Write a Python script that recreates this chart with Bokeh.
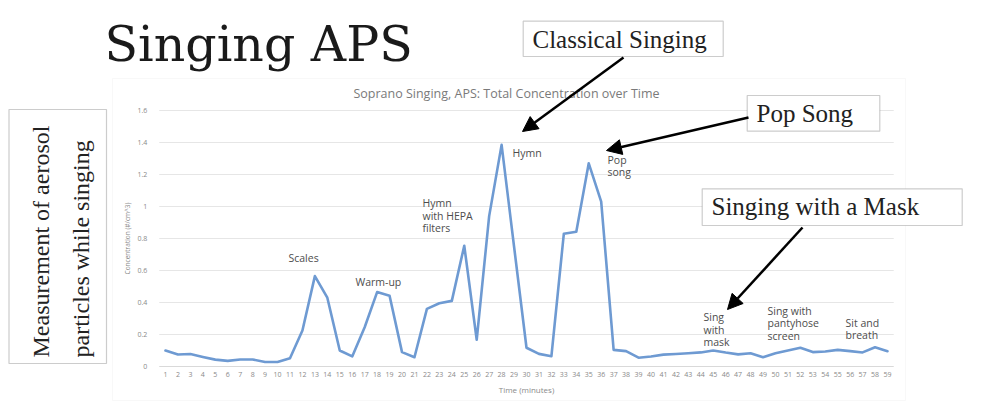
import math
from bokeh.plotting import figure
from bokeh.models import (Range1d, Label, BoxAnnotation, Arrow, NormalHead,
                          FixedTicker, CustomJSTickFormatter)
from bokeh.embed import file_html
from bokeh.resources import INLINE

# ---------------- data ----------------
minutes = [1, 2, 3, 4, 5, 6, 7, 8, 9, 10, 11, 12, 13, 14, 15, 16, 17, 18, 19, 20,
           21, 22, 23, 24, 25, 26, 27, 28, 29, 30, 31, 32, 33, 34, 35, 36, 37, 38, 39, 40,
           41, 42, 43, 44, 45, 46, 47, 48, 49, 50, 51, 52, 53, 54, 55, 56, 57, 58, 59]
concentration = [0.100, 0.075, 0.078, 0.060, 0.043, 0.035, 0.044, 0.044, 0.028, 0.028,
                 0.052, 0.225, 0.565, 0.430, 0.100, 0.063, 0.245, 0.465, 0.442, 0.090,
                 0.058, 0.360, 0.395, 0.410, 0.755, 0.167, 0.940, 1.385, 0.750, 0.117,
                 0.079, 0.064, 0.830, 0.842, 1.270, 1.030, 0.104, 0.096, 0.055, 0.063,
                 0.074, 0.078, 0.083, 0.088, 0.100, 0.087, 0.076, 0.083, 0.058, 0.083,
                 0.100, 0.117, 0.090, 0.094, 0.104, 0.096, 0.088, 0.120, 0.096]
y_ticks = [0, 0.2, 0.4, 0.6, 0.8, 1, 1.2, 1.4, 1.6]
x_bounds = (0.5, 59.5)
y_bounds = (0.0, 1.6)

slide_title = "Singing APS"
chart_title = "Soprano Singing, APS: Total Concentration over Time"
x_title = "Time (minutes)"
y_title = "Concentration (#/cm^3)"
side_note = ["Measurement of aerosol", "particles while singing"]
callouts = ["Classical Singing", "Pop Song", "Singing with a Mask"]

# ---------------- layout helpers (picture pixels -> data) ----------------
W, H = 985, 407
PX_FIRST, PX_LAST = 165.0, 887.0     # pixel x of minute 1 and minute 59
PY_ZERO, PY_TOP = 366.0, 110.0       # pixel y of 0 and 1.6
SX = (PX_LAST - PX_FIRST) / (minutes[-1] - minutes[0])
SY = (PY_ZERO - PY_TOP) / (y_bounds[1] - y_bounds[0])


def X(px):
    return minutes[0] + (px - PX_FIRST) / SX


def Y(py):
    return (PY_ZERO - py) / SY


p = figure(width=W, height=H, output_backend="svg", toolbar_location=None,
           x_range=Range1d(X(0), X(W)), y_range=Range1d(Y(H), Y(0)),
           min_border_left=0, min_border_right=0,
           min_border_top=0, min_border_bottom=0)
p.outline_line_color = None
p.background_fill_color = "white"
p.border_fill_color = "white"

# chart area frame (faint)
p.add_layout(BoxAnnotation(left=X(112), right=X(905), top=Y(78), bottom=Y(400),
                           fill_color=None, line_color="#e8e8e8", line_width=1,
                           level="underlay"))

# gridlines (horizontal, bounded to plot area)
p.segment(x0=[x_bounds[0]] * len(y_ticks), x1=[x_bounds[1]] * len(y_ticks),
          y0=y_ticks, y1=y_ticks, line_color="#e6e6e6", line_width=1)
p.xgrid.visible = False
p.ygrid.visible = False

# axes placed at fixed data locations
p.xaxis.fixed_location = 0
p.xaxis.bounds = x_bounds
p.xaxis.ticker = FixedTicker(ticks=minutes)
p.xaxis.axis_label = x_title
p.xaxis.axis_line_color = "#d9d9d9"
p.xaxis.major_tick_line_color = None
p.xaxis.minor_tick_line_color = None
p.xaxis.major_tick_out = 0
p.xaxis.major_tick_in = 0
p.xaxis.major_label_text_font = "Open Sans"
p.xaxis.major_label_text_font_size = "7px"
p.xaxis.major_label_text_color = "#8a8a8a"
p.xaxis.major_label_standoff = 5
p.xaxis.axis_label_text_font = "Open Sans"
p.xaxis.axis_label_text_font_style = "normal"
p.xaxis.axis_label_text_font_size = "8px"
p.xaxis.axis_label_text_color = "#8a8a8a"
p.xaxis.axis_label_standoff = 4

p.yaxis.fixed_location = x_bounds[0]
p.yaxis.bounds = y_bounds
p.yaxis.ticker = FixedTicker(ticks=y_ticks)
p.yaxis.formatter = CustomJSTickFormatter(code="return String(tick);")
p.yaxis.axis_label = y_title
p.yaxis.axis_line_color = None
p.yaxis.major_tick_line_color = None
p.yaxis.minor_tick_line_color = None
p.yaxis.major_tick_out = 0
p.yaxis.major_tick_in = 0
p.yaxis.major_label_text_font = "Open Sans"
p.yaxis.major_label_text_font_size = "7px"
p.yaxis.major_label_text_color = "#8a8a8a"
p.yaxis.major_label_standoff = 12
p.yaxis.axis_label_text_font = "Open Sans"
p.yaxis.axis_label_text_font_style = "normal"
p.yaxis.axis_label_text_font_size = "6.5px"
p.yaxis.axis_label_text_color = "#8a8a8a"
p.yaxis.axis_label_standoff = 3

# data line
p.line(minutes, concentration, line_color="#6e9ad2", line_width=2.6,
       line_join="round", line_cap="round")


def label(text, px, py, size, font, color, align="left", baseline="middle", angle=0.0):
    p.add_layout(Label(x=X(px), y=Y(py), text=text, text_font=font,
                       text_font_size=size, text_color=color, text_align=align,
                       text_baseline=baseline, angle=angle))


# chart title
label(chart_title, 506, 93, "12.5px", "Open Sans", "#7a7a7a", align="center")

# in-chart notes
note_font = "Open Sans"
note_size = "10.5px"
note_color = "#4d4d4d"
notes = [
    ("Scales", 288, 257),
    ("Warm-up", 355, 281.5),
    ("Hymn", 422, 202.7), ("with HEPA", 422, 215), ("filters", 422, 227.3),
    ("Hymn", 512, 152.7),
    ("Pop", 607, 159), ("song", 607, 171.5),
    ("Sing", 703, 316.7), ("with", 703, 329), ("mask", 703, 341.3),
    ("Sing with", 767, 310.7), ("pantyhose", 767, 322.9), ("screen", 767, 335.1),
    ("Sit and", 845, 322.3), ("breath", 845, 334.5),
]
for t, px, py in notes:
    label(t, px, py, note_size, note_font, note_color)

# slide title
label(slide_title, 104, 44, "49px", "DejaVu Serif", "#1a1a1a")

# side box with rotated text
p.add_layout(BoxAnnotation(left=X(8.5), right=X(106), top=Y(109), bottom=Y(363),
                           fill_color=None, line_color="#555555", line_width=1.2))
label(side_note[0], 40, 357, "24px", "Liberation Serif", "#222222",
      align="left", baseline="middle", angle=math.pi / 2)
label(side_note[1], 80, 357, "24px", "Liberation Serif", "#222222",
      align="left", baseline="middle", angle=math.pi / 2)

# callout boxes
boxes = [
    (callouts[0], 522.7, 722.7, 20.7, 56.0, 532, 39),
    (callouts[1], 746.7, 879.3, 95.0, 130.7, 756, 113),
    (callouts[2], 701.7, 961.7, 188.3, 225.0, 711, 206),
]
for t, l, r, tp, bt, tx, ty in boxes:
    p.add_layout(BoxAnnotation(left=X(l), right=X(r), top=Y(tp), bottom=Y(bt),
                               fill_color="white", fill_alpha=1.0,
                               line_color="#555555", line_width=1.2))
    label(t, tx, ty, "25px", "Liberation Serif", "#222222")

# arrows
arrows = [
    (623, 57, 522, 131),
    (748, 117, 606, 150),
    (802, 227, 727, 309),
]
for sx, sy, ex, ey in arrows:
    p.add_layout(Arrow(x_start=X(sx), y_start=Y(sy), x_end=X(ex), y_end=Y(ey),
                       line_color="black", line_width=2.5,
                       end=NormalHead(size=15, fill_color="black", line_color="black")))

open("out.html", "w").write(file_html(p, INLINE))
